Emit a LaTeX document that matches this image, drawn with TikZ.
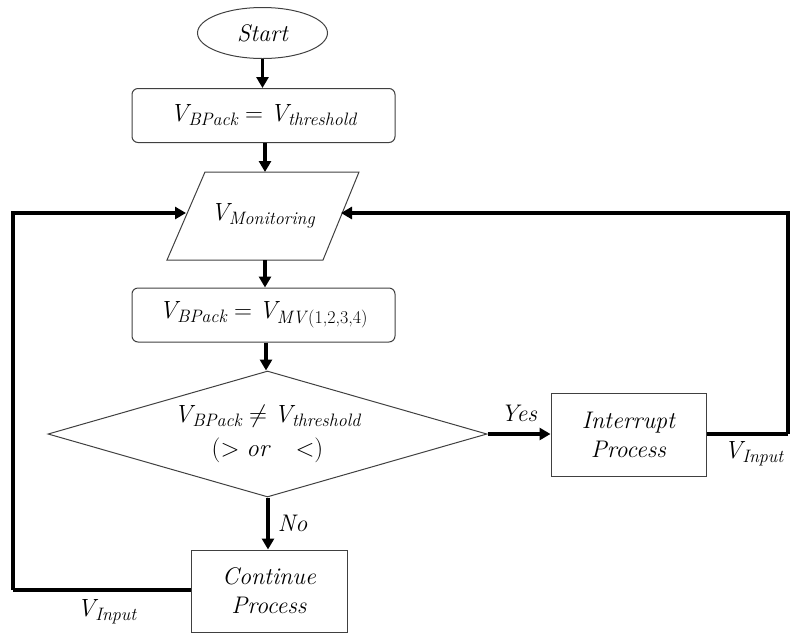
\documentclass[tikz,border=0pt]{standalone}
\usetikzlibrary{shapes.geometric,arrows.meta}
% variable with a wide italic subscript
\newcommand{\sv}[1]{\mathit{V}_{\mbox{\fontsize{18}{18}\selectfont\itshape #1}}}
\tikzset{
  shapeline/.style={draw=black!75, line width=1pt, inner sep=0pt, align=center,
    font=\fontsize{24}{29}\selectfont\itshape},
  textonly/.style={inner sep=0pt, align=center, font=\fontsize{24}{29}\selectfont\itshape},
  procbox/.style={shapeline, rectangle},
  roundbox/.style={shapeline, rectangle, rounded corners=6pt},
  flow/.style={line width=3.6pt, -{Triangle[length=11pt,width=12pt]}},
  plainflow/.style={line width=3.6pt},
  lbl/.style={font=\fontsize{24}{26}\selectfont\itshape, inner sep=0pt}
}
\begin{document}
\begin{tikzpicture}[x=1pt,y=-1pt]
\useasboundingbox (0,0) rectangle (790,633);

\node[shapeline, ellipse, minimum width=130pt, minimum height=51pt] (start) at (262.5,33) {Start};
\node[roundbox, minimum width=263pt, minimum height=54pt] (b1) at (263.5,115.5) {$\sv{BPack} = \sv{threshold}$};

% input/output parallelogram
\draw[draw=black!75, line width=1pt] (167,260) -- (205,172) -- (359,172) -- (323,260) -- cycle;
\node[textonly, minimum width=150pt, minimum height=88pt] (mon) at (263,216) {$\sv{Monitoring}$};
\coordinate (monL) at (186,213);
\coordinate (monR) at (341,213);

\node[roundbox, minimum width=263pt, minimum height=54pt] (b2) at (263.5,315) {$\sv{BPack} = \sv{MV\/\upshape(1,2,3,4)}$};
\node[shapeline, diamond, shape aspect=3.5, minimum width=439pt, minimum height=126pt] (dec) at (267.5,434)
  {$\sv{BPack} \neq \sv{threshold}$\\[5pt]$(> \mathit{or}\ \ <)$};
\node[procbox, minimum width=155pt, minimum height=83pt] (intr) at (628.5,434.5) {Interrupt\\Process};
\node[procbox, minimum width=156pt, minimum height=82pt] (cont) at (269,591) {Continue\\Process};

\coordinate (rloop) at (788,434);
\coordinate (lloop) at (13,590);

\draw[flow] (start.south) -- (start.south |- b1.north);
\draw[flow] (b1.south -| 265,0) -- (265,172);
\draw[flow] (265,260) -- (265,0 |- b2.north);
\draw[flow] (b2.south -| 266,0) -- (dec.north -| 266,0);
\draw[flow] (dec.east) -- node[lbl, above=10pt] {Yes} (intr.west |- dec.east);
\draw[flow] (dec.south -| 268,0) -- node[lbl, right=8pt] {No} (268,0 |- cont.north);

\draw[plainflow] (intr.east |- rloop) -- (rloop);
\draw[flow] (rloop) |- (monR);
\node[lbl] (vin1) at (754,454) {$\sv{Input}$};

\draw[plainflow] (cont.west |- lloop) -- (lloop);
\draw[flow] (lloop) |- (monL);
\node[lbl] (vin2) at (107,612) {$\sv{Input}$};
\end{tikzpicture}
\end{document}
